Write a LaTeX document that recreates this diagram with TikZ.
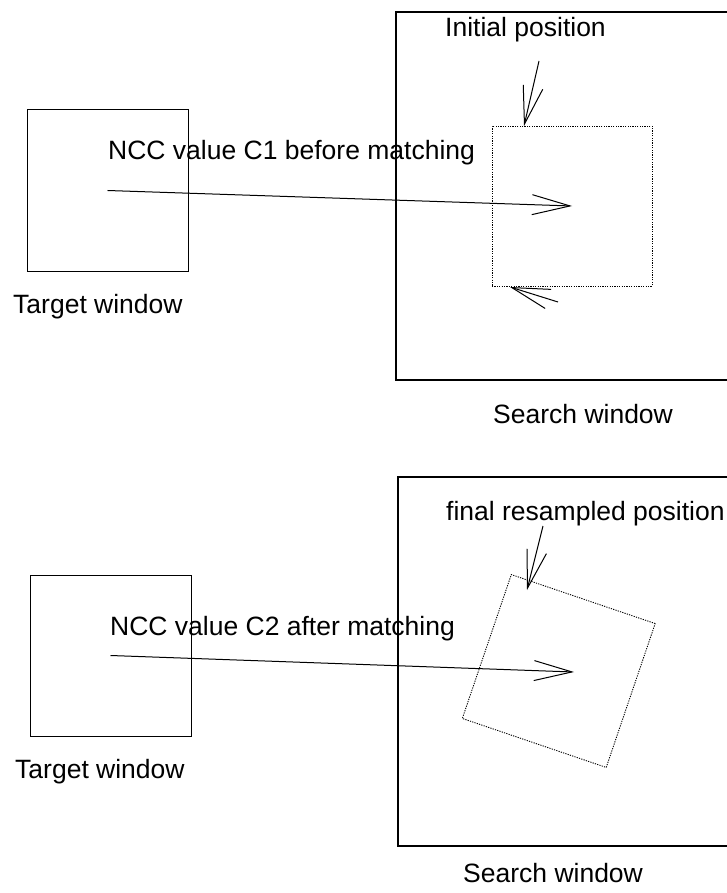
\documentclass[tikz,border=0pt]{standalone}
\usepackage{fontspec}
\setmainfont{Liberation Sans}
\usetikzlibrary{arrows.meta}

\begin{document}
\begin{tikzpicture}[
  x=1pt, y=-1pt,
  win/.style={draw, line width=1pt, minimum size=161pt, inner sep=0pt},
  search/.style={draw, line width=1.2pt, inner sep=0pt},
  posbox/.style={draw, line width=0.9pt, dash pattern=on 1.2pt off 1.2pt, inner sep=0pt, minimum size=160pt},
  lbl/.style={font=\fontsize{26.5}{30}\selectfont, inner sep=0pt, anchor=base west},
  arrow/.style={-{Straight Barb[length=38pt,width=20pt]}, line width=1pt}
]
\useasboundingbox (0,0) rectangle (727,893);

% before matching
\node[win] (target1) at (107.5,190.5) {};
\node[lbl] (tlbl1) at (13,313) {Target window};
\node[search, minimum width=344pt, minimum height=368pt] (search1) at (568,196) {};
\node[lbl] (slbl1) at (493,423) {Search window};
\node[posbox] (init) at (572,206) {};
\node[lbl] (initlbl) at (445,37) {Initial position};
\node[lbl] (ncc1) at (108,160) {NCC value C1 before matching};
\coordinate (a1) at (539,61);
\coordinate (a2) at (524,126);
\coordinate (b1) at (558,302);
\coordinate (b2) at (510,287);
\draw[arrow] (target1.center) -- (init.center);
\draw[arrow] (a1) -- (a2);
\draw[arrow] (b1) -- (b2);

% after matching
\node[win] (target2) at (110.5,655.5) {};
\node[lbl] (tlbl2) at (15,778) {Target window};
\node[search, minimum width=342pt, minimum height=369pt] (search2) at (569,661.5) {};
\node[lbl] (slbl2) at (463,882) {Search window};
\node[posbox, minimum size=152pt, rotate=-18.8] (final) at (558.75,671) {};
\node[lbl] (finallbl) at (446,520) {final resampled position};
\node[lbl] (ncc2) at (110,635) {NCC value C2 after matching};
\coordinate (hit2) at (574,672);
\coordinate (c1) at (543,526);
\coordinate (c2) at (527,590);
\draw[arrow] (target2.center) -- (hit2);
\draw[arrow] (c1) -- (c2);
\end{tikzpicture}
\end{document}
